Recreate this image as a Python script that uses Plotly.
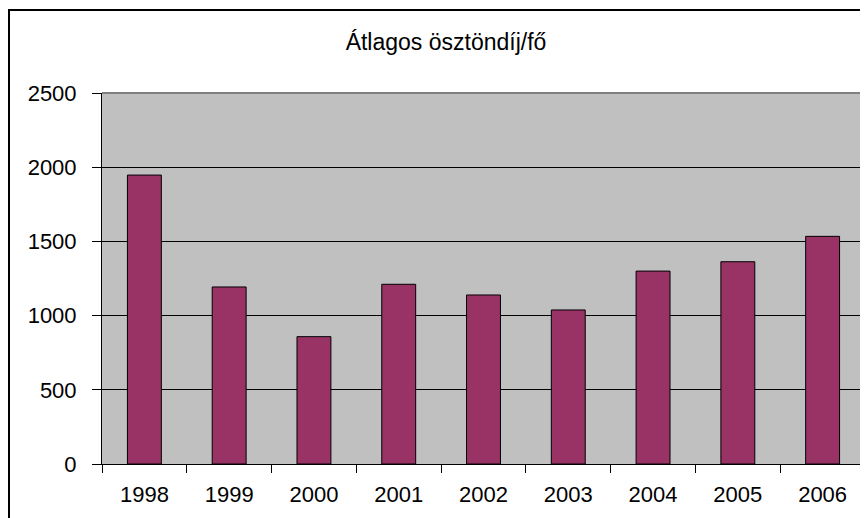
import plotly.graph_objects as go

years = ["1998", "1999", "2000", "2001", "2002", "2003", "2004", "2005", "2006"]
values = [1947, 1193, 858, 1211, 1139, 1038, 1300, 1363, 1534]
y_ticks = [0, 500, 1000, 1500, 2000, 2500]
title_text = "Átlagos ösztöndíj/fő"

FONT = "Liberation Sans, Arial, sans-serif"

# page body has an 8px default margin; figure is sized/offset to compensate
W, H = 860, 510

fig = go.Figure(
    go.Bar(
        x=years,
        y=values,
        width=0.4,
        marker=dict(color="#993366", line=dict(color="#000000", width=1)),
    )
)

fig.update_layout(
    width=W,
    height=H,
    margin=dict(l=94, r=3, t=85, b=54),
    paper_bgcolor="#FFFFFF",
    plot_bgcolor="#C0C0C0",
    showlegend=False,
    title=dict(
        text=title_text,
        x=438 / W,
        xref="container",
        xanchor="center",
        y=1 - 34 / H,
        yref="container",
        yanchor="middle",
        font=dict(family=FONT, size=23, color="#000000"),
    ),
    font=dict(family=FONT, size=22, color="#000000"),
)

fig.update_yaxes(
    range=[0, 2500],
    tickvals=y_ticks,
    ticktext=[str(v) for v in y_ticks],
    showgrid=True,
    gridcolor="#000000",
    gridwidth=1,
    showline=True,
    linecolor="#000000",
    linewidth=1,
    ticks="outside",
    ticklen=9,
    tickcolor="#000000",
    ticklabelstandoff=11,
    zeroline=False,
    tickfont=dict(family=FONT, size=22, color="#000000"),
)

fig.update_xaxes(
    type="category",
    showgrid=False,
    showline=True,
    linecolor="#000000",
    linewidth=1,
    ticks="outside",
    tickson="boundaries",
    ticklen=8,
    tickcolor="#000000",
    ticklabelstandoff=11,
    tickfont=dict(family=FONT, size=22, color="#000000"),
)

# gray top/right borders of plot area
fig.add_shape(type="line", xref="paper", yref="paper", x0=0, x1=1, y0=1, y1=1,
              line=dict(color="#808080", width=2), layer="above")
fig.add_shape(type="line", xref="paper", yref="paper", x0=1, x1=1, y0=0, y1=1,
              line=dict(color="#808080", width=2), layer="above")

# outer chart frame (left and top visible)
fig.add_shape(type="rect", xref="paper", yref="paper",
              x0=(9 - 102) / 763, x1=(875 - 102) / 763,
              y0=(464 - 525) / 371, y1=(464 - 10) / 371,
              line=dict(color="#000000", width=2), layer="below")

fig.write_html("out.html")
